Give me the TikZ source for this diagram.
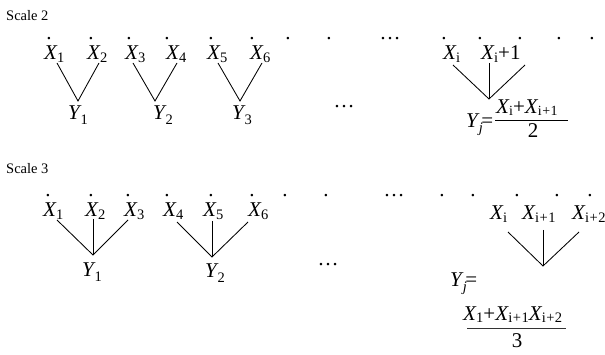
\documentclass[tikz,border=0pt]{standalone}
\usepackage{fontspec}
\setmainfont{Liberation Serif}
\newcommand\vsub[1]{\raisebox{-2.5pt}{\fontsize{14.5}{15}\selectfont #1}}
\newcommand\vsuby[1]{\raisebox{-5pt}{\fontsize{14.5}{15}\selectfont #1}}
\newcommand\vsubn[1]{\raisebox{-2pt}{\fontsize{14}{15}\selectfont #1}}
\newcommand\Xs[1]{\textit{X}\kern-0.5pt\vsub{#1}}
\newcommand\Xn[1]{\textit{X}\kern-0.5pt\vsubn{#1}}
\newcommand\Ys[1]{\textit{Y}\kern-1pt\vsuby{#1}}
\newcommand\ipo{i\kern0.5pt+\kern0.5pt1}
\newcommand\ipt{i\kern0.5pt+\kern0.5pt2}
\tikzset{
  lbl/.style={font=\fontsize{21}{24}\selectfont, inner sep=0pt, anchor=base west},
  dotl/.style={font=\fontsize{21}{24}\selectfont, inner sep=0pt, anchor=base},
  capt/.style={font=\fontsize{14.5}{17}\selectfont, inner sep=0pt, anchor=base west},
  edge/.style={line width=0.85pt, black},
  fbar/.style={line width=0.9pt, black},
}
\begin{document}
\begin{tikzpicture}[x=1pt,y=-1pt]
\useasboundingbox (0,0) rectangle (605,355);
% ---------------- Scale 2 ----------------
\node[capt] (s2) at (6,21) {Scale 2};
\foreach \x [count=\i] in {49,91,129,167,211,252,288,329,444,480,520,559,592}
  \node[dotl] (dA\i) at (\x,40) {.};
\node[dotl] (eA) at (390,40) {\dots};
\node[lbl] (a1) at (44,60) {\Xs{1}};
\node[lbl] (a2) at (87,60) {\Xs{2}};
\node[lbl] (a3) at (125,60) {\Xs{3}};
\node[lbl] (a4) at (166,60) {\Xs{4}};
\node[lbl] (a5) at (207,60) {\Xs{5}};
\node[lbl] (a6) at (250,60) {\Xs{6}};
\node[lbl] (ai) at (443,60) {\Xs{i}};
\node[lbl] (aj) at (481,60) {\Xs{i}+1};
\coordinate (ta1) at (57,63);  \coordinate (va1) at (78,101);  \coordinate (ta2) at (99,63);
\coordinate (ta3) at (133,63); \coordinate (va2) at (155,101); \coordinate (ta4) at (177,63);
\coordinate (ta5) at (218,63); \coordinate (va3) at (240,101); \coordinate (ta6) at (262,63);
\coordinate (tai) at (453,65); \coordinate (vaj) at (489,99); \coordinate (taj) at (489,63); \coordinate (tak) at (525,65);
\draw[edge] (ta1) -- (va1) -- (ta2);
\draw[edge] (ta3) -- (va2) -- (ta4);
\draw[edge] (ta5) -- (va3) -- (ta6);
\draw[edge] (tai) -- (vaj) -- (tak);
\draw[edge] (taj) -- (vaj);
\node[lbl] (ya1) at (68,120) {\Ys{1}};
\node[lbl] (ya2) at (153,120) {\Ys{2}};
\node[lbl] (ya3) at (232,120) {\Ys{3}};
\node[dotl] (eA2) at (344,108) {\dots};
\node[lbl] (yaj) at (466,128) {\Ys{\textit{j}}\kern-1.5pt=};
\node[lbl] (na) at (496,114) {\Xn{i}+\Xn{\ipo}};
\coordinate (bal) at (495,120); \coordinate (bar) at (568,120);
\draw[fbar] (bal) -- (bar);
\node[dotl] (da) at (533,138) {2};
% ---------------- Scale 3 ----------------
\node[capt] (s3) at (6,174) {Scale 3};
\foreach \x [count=\i] in {48,91,128,167,211,252,285,326,442,473,517,557,590}
  \node[dotl] (dB\i) at (\x,197) {.};
\node[dotl] (eB) at (394,197) {\dots};
\node[lbl] (b1) at (43,217) {\Xs{1}};
\node[lbl] (b2) at (85,217) {\Xs{2}};
\node[lbl] (b3) at (124,217) {\Xs{3}};
\node[lbl] (b4) at (163,217) {\Xs{4}};
\node[lbl] (b5) at (203,217) {\Xs{5}};
\node[lbl] (b6) at (248,217) {\Xs{6}};
\node[lbl] (bi) at (490,220) {\Xs{i}};
\node[lbl] (bj) at (522,220) {\Xs{\ipo}};
\node[lbl] (bk) at (572,220) {\Xs{\ipt}};
\coordinate (tb1) at (57,220);  \coordinate (tb2) at (93,219);  \coordinate (tb3) at (128,220); \coordinate (vb1) at (93,255);
\coordinate (tb4) at (177,222); \coordinate (tb5) at (212,221); \coordinate (tb6) at (248,222); \coordinate (vb2) at (212,257);
\coordinate (tbi) at (508,232); \coordinate (tbj) at (543,230); \coordinate (tbk) at (579,232); \coordinate (vbj) at (543,266);
\draw[edge] (tb1) -- (vb1) -- (tb3);
\draw[edge] (tb2) -- (vb1);
\draw[edge] (tb4) -- (vb2) -- (tb6);
\draw[edge] (tb5) -- (vb2);
\draw[edge] (tbi) -- (vbj) -- (tbk);
\draw[edge] (tbj) -- (vbj);
\node[lbl] (yb1) at (82,277) {\Ys{1}};
\node[lbl] (yb2) at (205,278) {\Ys{2}};
\node[dotl] (eB2) at (328,266) {\dots};
\node[lbl] (ybj) at (450,287) {\Ys{\textit{j}}\kern-1.5pt=};
\node[lbl] (nb) at (463,320) {\Xs{1}+\Xs{\ipo}\Xs{\ipt}};
\coordinate (bbl) at (467,328.5); \coordinate (bbr) at (566,328.5);
\draw[fbar, line width=1.2pt, black!80] (bbl) -- (bbr);
\node[dotl] (db) at (517,348) {3};
\end{tikzpicture}
\end{document}
